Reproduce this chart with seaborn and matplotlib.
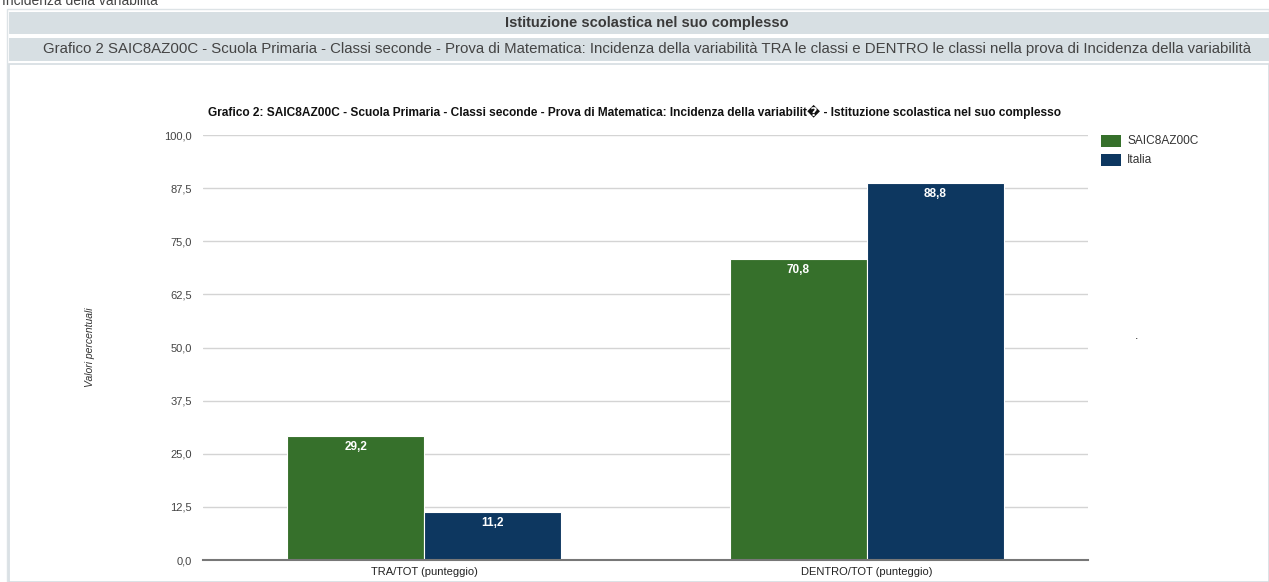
import numpy as np
import matplotlib.pyplot as plt
import seaborn as sns
import pandas as pd
from matplotlib.patches import Rectangle

categorie = ['TRA/TOT (punteggio)', 'DENTRO/TOT (punteggio)']
serie = ['SAIC8AZ00C', 'Italia']
valori_scuola = [29.2, 70.8]
valori_italia = [11.2, 88.8]
yticks = [0.0, 12.5, 25.0, 37.5, 50.0, 62.5, 75.0, 87.5, 100.0]

df = pd.DataFrame({
    'categoria': categorie * 2,
    'serie': [serie[0]] * 2 + [serie[1]] * 2,
    'valore': valori_scuola + valori_italia,
})

colori = {'SAIC8AZ00C': '#36702b', 'Italia': '#0d3760'}

sns.set_style('white')
plt.rcParams['font.family'] = ['Liberation Sans', 'DejaVu Sans']

fig = plt.figure(figsize=(12.69, 5.82), dpi=100)
W, H = 1269, 582

def box(x, y, w, h, fc, ec='none', lw=0):
    r = Rectangle((x / W, 1 - (y + h) / H), w / W, h / H, transform=fig.transFigure,
                  facecolor=fc, edgecolor=ec, lw=lw, zorder=-5)
    fig.patches.append(r)

# intestazione pagina
fig.text(2 / W, 1 - 1 / H, 'Incidenza della variabilità', fontsize=10, color='#444444',
         ha='left', va='center')
box(7, 9, 1262, 573, '#ffffff', '#dde3e6', 1)
box(9, 12, 1260, 22, '#d7dfe3')
box(9, 38, 1260, 23, '#d7dfe3')
box(9, 64, 1260, 518, '#ffffff', '#d5dde1', 1.2)
fig.text(647 / W, 1 - 23 / H, 'Istituzione scolastica nel suo complesso', fontsize=10.5,
         fontweight='bold', color='#3a3a3a', ha='center', va='center')
fig.text(647 / W, 1 - 49 / H,
         'Grafico 2 SAIC8AZ00C - Scuola Primaria - Classi seconde - Prova di Matematica: '
         'Incidenza della variabilità TRA le classi e DENTRO le classi nella prova di '
         'Incidenza della variabilità', fontsize=10.85, color='#444444', ha='center', va='center')

ax = fig.add_axes([203 / W, 1 - 560 / H, 885 / W, 425 / H])
sns.barplot(data=df, x='categoria', y='valore', hue='serie', palette=colori, saturation=1,
            width=0.62, ax=ax, edgecolor='white', linewidth=0.8, legend=False)

ax.set_xlim(-0.5, 1.5)
ax.set_ylim(0, 100)
ax.set_yticks(yticks)
ax.set_yticklabels([f'{v:.1f}'.replace('.', ',') for v in yticks], fontsize=8, color='#444444')
ax.tick_params(axis='y', length=0, pad=8)
ax.tick_params(axis='x', length=0, pad=5, labelsize=8, labelcolor='#222222')
ax.grid(axis='y', color='#d4d4d4', lw=1)
ax.set_axisbelow(True)
for s in ['top', 'right', 'left']:
    ax.spines[s].set_visible(False)
ax.spines['bottom'].set_color('#777777')
ax.spines['bottom'].set_linewidth(1.5)
ax.set_xlabel('')
ax.set_ylabel('Valori percentuali', fontsize=7.5, style='italic', color='#333333', labelpad=50)

for cont in ax.containers:
    for bar in cont:
        v = bar.get_height()
        ax.text(bar.get_x() + bar.get_width() / 2, v - 1.2, f'{v:.1f}'.replace('.', ','),
                ha='center', va='top', color='white', fontsize=8.5, fontweight='bold')

fig.text(635 / W, 1 - 112 / H,
         'Grafico 2: SAIC8AZ00C - Scuola Primaria - Classi seconde - Prova di Matematica: '
         'Incidenza della variabilit\ufffd - Istituzione scolastica nel suo complesso',
         fontsize=8.6, fontweight='bold', color='#111111', ha='center', va='center')

# legenda
for i, s in enumerate(serie):
    y = 141 + i * 19
    box(1101, y - 6, 20, 12, colori[s])
    fig.text(1127 / W, 1 - y / H, s, fontsize=8.6, color='#333333', ha='left', va='center')
fig.text(1137 / W, 1 - 342 / H, '.', fontsize=9, color='#222222', ha='center', va='bottom')

fig.savefig('out.png', dpi=100)
